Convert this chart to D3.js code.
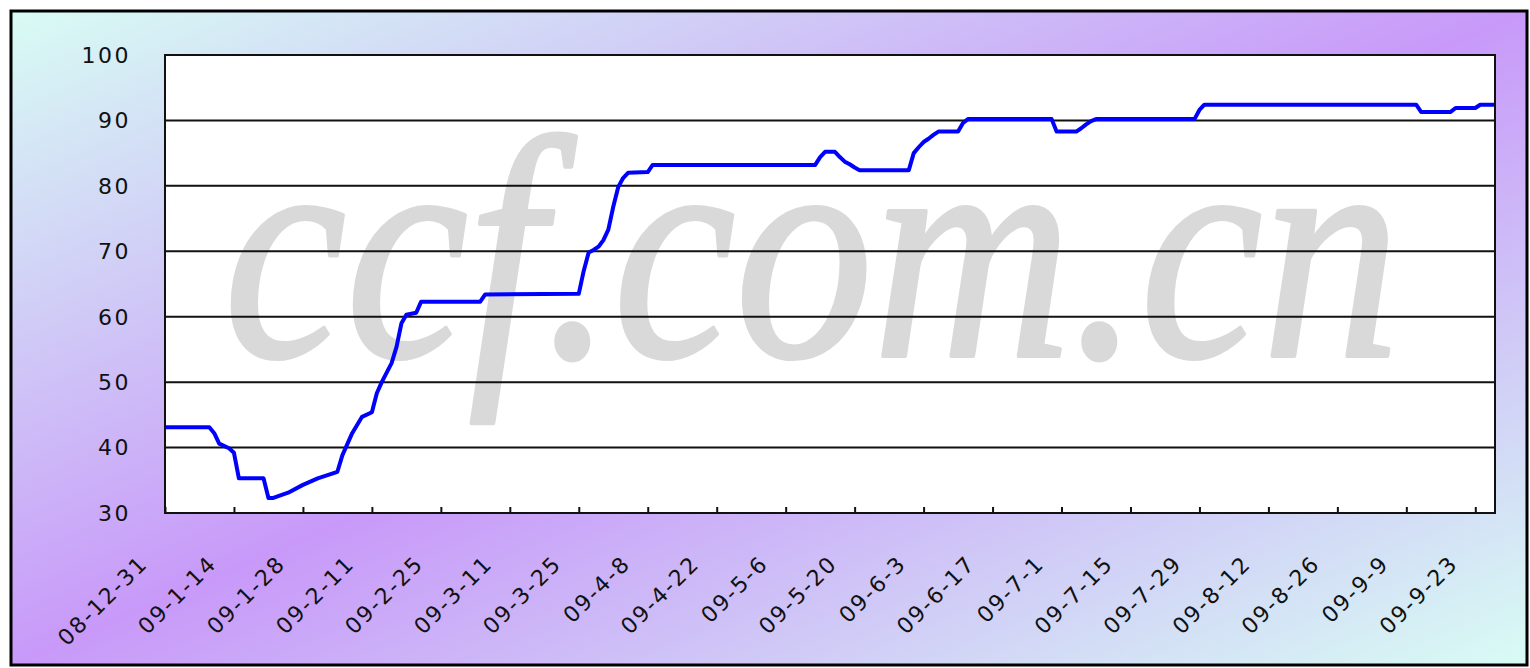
<!DOCTYPE html>
<html>
<head>
<meta charset="utf-8">
<script src="https://cdn.jsdelivr.net/npm/d3@7"></script>
<style>
  html, body { margin: 0; padding: 0; background: #fff; }
  svg { display: block; }
</style>
</head>
<body>
<script>
// Price index, daily readings
const dates = [
  "2008-12-31", "2009-01-09", "2009-01-10", "2009-01-11", "2009-01-13", "2009-01-14",
  "2009-01-15", "2009-01-20", "2009-01-21", "2009-01-22", "2009-01-25", "2009-01-28",
  "2009-01-31", "2009-02-04", "2009-02-05", "2009-02-07", "2009-02-09", "2009-02-11",
  "2009-02-12", "2009-02-13", "2009-02-15", "2009-02-16", "2009-02-17", "2009-02-18",
  "2009-02-20", "2009-02-21", "2009-03-05", "2009-03-06", "2009-03-25", "2009-03-26",
  "2009-03-27", "2009-03-28", "2009-03-29", "2009-03-30", "2009-03-31", "2009-04-01",
  "2009-04-02", "2009-04-03", "2009-04-04", "2009-04-08", "2009-04-09", "2009-05-12",
  "2009-05-13", "2009-05-14", "2009-05-16", "2009-05-17", "2009-05-18", "2009-05-19",
  "2009-05-20", "2009-05-21", "2009-05-31", "2009-06-01", "2009-06-02", "2009-06-03",
  "2009-06-04", "2009-06-05", "2009-06-06", "2009-06-10", "2009-06-11", "2009-06-12",
  "2009-06-29", "2009-06-30", "2009-07-04", "2009-07-05", "2009-07-06", "2009-07-07",
  "2009-07-08", "2009-07-28", "2009-07-29", "2009-07-30", "2009-09-11", "2009-09-12",
  "2009-09-18", "2009-09-19", "2009-09-23", "2009-09-24", "2009-09-27"
];
const values = [
  43.1, 43.1, 42.2, 40.6, 39.9, 39.2,
  35.3, 35.3, 32.3, 32.3, 33.1, 34.3,
  35.3, 36.3, 38.8, 42.2, 44.7, 45.4,
  48.3, 50.0, 52.9, 55.4, 59.0, 60.3,
  60.6, 62.3, 62.3, 63.4, 63.5, 67.0,
  69.8, 70.2, 70.7, 71.7, 73.3, 76.8,
  79.8, 81.2, 82.0, 82.1, 83.2, 83.2,
  84.4, 85.2, 85.2, 84.4, 83.7, 83.3,
  82.8, 82.4, 82.4, 85.0, 85.9, 86.7,
  87.2, 87.8, 88.3, 88.3, 89.6, 90.2,
  90.2, 88.3, 88.3, 88.8, 89.4, 89.9,
  90.2, 90.2, 91.6, 92.4, 92.4, 91.3,
  91.3, 91.9, 91.9, 92.4, 92.4
];

// axis setup
const xStart = "2008-12-31";
const xEnd = "2009-09-27";
const tickDates = [
  "2008-12-31", "2009-01-14", "2009-01-28", "2009-02-11", "2009-02-25", "2009-03-11",
  "2009-03-25", "2009-04-08", "2009-04-22", "2009-05-06", "2009-05-20", "2009-06-03",
  "2009-06-17", "2009-07-01", "2009-07-15", "2009-07-29", "2009-08-12", "2009-08-26",
  "2009-09-09", "2009-09-23"
];
const yTicks = [30, 40, 50, 60, 70, 80, 90, 100];

const width = 1530, height = 668;
const plot = { left: 165, right: 1495, top: 55, bottom: 513 };

const parse = d3.utcParse("%Y-%m-%d");
const fmt = (d) => {
  const y = String(d.getUTCFullYear()).slice(2);
  return `${y}-${d.getUTCMonth() + 1}-${d.getUTCDate()}`;
};

const series = dates.map((d, i) => ({ date: parse(d), value: values[i] }));

const x = d3.scaleUtc()
  .domain([parse(xStart), parse(xEnd)])
  .range([plot.left, plot.right]);
const y = d3.scaleLinear()
  .domain([30, 100])
  .range([plot.bottom, plot.top]);

const svg = d3.select("body").append("svg")
  .attr("width", width)
  .attr("height", height);

// background gradient (cyan corners, purple band across)
const defs = svg.append("defs");
const grad = defs.append("linearGradient")
  .attr("id", "bg")
  .attr("x1", 0).attr("y1", 0).attr("x2", 1).attr("y2", 1);
grad.append("stop").attr("offset", "0%").attr("stop-color", "#d8fcf4");
grad.append("stop").attr("offset", "50%").attr("stop-color", "#c899f9");
grad.append("stop").attr("offset", "100%").attr("stop-color", "#d8fcf4");

svg.append("rect")
  .attr("x", 11).attr("y", 11)
  .attr("width", width - 14).attr("height", height - 14)
  .attr("fill", "url(#bg)")
  .attr("stroke", "#000")
  .attr("stroke-width", 3);

// plot area
svg.append("rect")
  .attr("x", plot.left).attr("y", plot.top)
  .attr("width", plot.right - plot.left).attr("height", plot.bottom - plot.top)
  .attr("fill", "#fff");

// watermark
svg.append("text")
  .attr("x", 224)
  .attr("y", 356)
  .attr("font-family", "'Liberation Serif', 'Times New Roman', serif")
  .attr("font-style", "italic")
  .attr("font-size", 316)
  .attr("textLength", 1176)
  .attr("lengthAdjust", "spacingAndGlyphs")
  .attr("fill", "#d9d9d9")
  .attr("stroke", "#d9d9d9")
  .attr("stroke-width", 4)
  .attr("stroke-linejoin", "round")
  .text("ccf.com.cn");

// gridlines
svg.append("g")
  .selectAll("line")
  .data(yTicks.filter((t) => t > 30 && t < 100))
  .join("line")
  .attr("x1", plot.left).attr("x2", plot.right)
  .attr("y1", (d) => y(d)).attr("y2", (d) => y(d))
  .attr("stroke", "#111")
  .attr("stroke-width", 2);

// y labels
svg.append("g")
  .selectAll("text")
  .data(yTicks)
  .join("text")
  .attr("x", 131)
  .attr("y", (d) => y(d))
  .attr("dy", "0.36em")
  .attr("text-anchor", "end")
  .attr("font-family", "'DejaVu Sans', sans-serif")
  .attr("font-size", 22)
  .attr("letter-spacing", 2.5)
  .attr("fill", "#111")
  .text((d) => d);

// x ticks (inside, pointing up)
const xAxis = d3.axisTop(x)
  .tickValues(tickDates.map(parse))
  .tickSize(6)
  .tickFormat("");
svg.append("g")
  .attr("transform", `translate(0,${plot.bottom})`)
  .call(xAxis)
  .call((g) => g.select(".domain").remove())
  .call((g) => g.selectAll("line").attr("stroke", "#111").attr("stroke-width", 2));

// x labels rotated
svg.append("g")
  .selectAll("text")
  .data(tickDates.map(parse))
  .join("text")
  .attr("transform", (d) => `translate(${x(d) - 16},${plot.bottom + 52}) rotate(-45)`)
  .attr("text-anchor", "end")
  .attr("font-family", "'DejaVu Sans', sans-serif")
  .attr("font-size", 22)
  .attr("letter-spacing", 2)
  .attr("fill", "#111")
  .text((d) => fmt(d));

// the line
const line = d3.line()
  .x((d) => x(d.date))
  .y((d) => y(d.value));

svg.append("path")
  .datum(series)
  .attr("d", line)
  .attr("fill", "none")
  .attr("stroke", "#0000ff")
  .attr("stroke-width", 4)
  .attr("stroke-linejoin", "round");

// plot border
svg.append("rect")
  .attr("x", plot.left).attr("y", plot.top)
  .attr("width", plot.right - plot.left).attr("height", plot.bottom - plot.top)
  .attr("fill", "none")
  .attr("stroke", "#111")
  .attr("stroke-width", 2);
</script>
</body>
</html>
